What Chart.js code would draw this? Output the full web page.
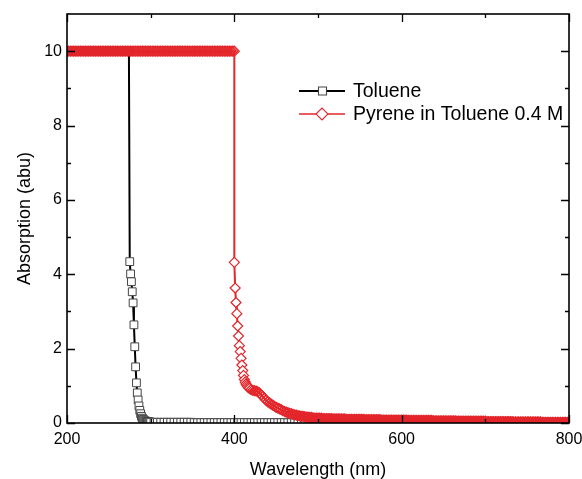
<!DOCTYPE html>
<html>
<head>
<meta charset="utf-8">
<script src="https://cdn.jsdelivr.net/npm/chart.js@4.4.1/dist/chart.umd.min.js"></script>
<style>
html,body{margin:0;padding:0;background:#fff;}
#wrap{width:582px;height:479px;position:relative;}
</style>
</head>
<body>
<div id="wrap"><canvas id="c"></canvas></div>
<script>
// ---------- tick labels ----------
const xTicks = [200, 400, 600, 800];
const xMinorTicks = [300, 500, 700];
const yTicks = [0, 2, 4, 6, 8, 10];
const yMinorTicks = [1, 3, 5, 7, 9];

// ---------- series names ----------
const seriesNames = ['Toluene', 'Pyrene in Toluene 0.4 M'];

// ---------- Toluene ----------
const tolPlateauNm = [200,202,204,206,208,210,212,214,216,218,220,222,224,226,228,230,232,234,236,238,240,242,244,246,248,250,252,254,256,258,260,262,264,266,268,270,272,274];
const tolPlateauAbs = [10,10,10,10,10,10,10,10,10,10,10,10,10,10,10,10,10,10,10,10,10,10,10,10,10,10,10,10,10,10,10,10,10,10,10,10,10,10];
const tolEdgeNm = [275,276,277,278,279,280,281,282,283,284,285,286,287,288,289,290,291,292,293,294,295,296,297,298,299,300];
const tolEdgeAbs = [4.34,4.01,3.80,3.53,3.23,2.64,2.05,1.51,1.08,0.81,0.62,0.46,0.34,0.25,0.18,0.13,0.10,0.08,0.06,0.05,0.04,0.04,0.03,0.03,0.03,0.02];
const tolTailNm = [304,308,312,316,320,324,328,332,336,340,344,348,
352,356,360,364,368,372,376,380,384,388,392,396,400,404,408,412,416,420,424,428,432,436,440,444,448,452,456,460,464,468,472,476,480,484,488,492,496,500,504,508,512,516,520,524,528,532,536,540,544,548,552,556,560,564,568,572,576,580,584,588,592,596,600,604,608,612,616,620,624,628,632,636,640,644,648,652,656,660,664,668,672,676,680,684,688,692,696,700,704,708,712,716,720,724,728,732,736,740,744,748,752,756,760,764,768,772,776,780,784,788,792,796,800];
const tolTailAbs = [0.02,0.02,0.02,0.02,0.02,0.02,0.02,0.02,0.02,0.02,0.02,0.02,
0.01,0.01,0.01,0.01,0.01,0.01,0.01,0.01,0.01,0.01,
0.01,0.01,0.01,0.01,0.01,0.01,0.01,0.01,0.01,0.01,
0.01,0.01,0.01,0.01,0.01,0.01,0.01,0.01,0.01,0.01,
0.01,0.01,0.01,0.01,0.01,0.01,0.01,0.01,0.01,0.01,
0.01,0.01,0.01,0.01,0.01,0.01,0.01,0.01,0.01,0.01,
0.01,0.01,0.01,0.01,0.01,0.01,0.01,0.01,0.01,0.01,
0.01,0.01,0.01,0.01,0.01,0.01,0.01,0.01,0.01,0.01,
0.01,0.01,0.01,0.01,0.01,0.01,0.01,0.01,0.01,0.01,
0.01,0.01,0.01,0.01,0.01,0.01,0.01,0.01,0.01,0.01,
0.01,0.01,0.01,0.01,0.01,0.01,0.01,0.01,0.01,0.01,
0.01,0.01,0.01,0.01,0.01,0.01,0.01,0.01,0.01,0.01,
0.01,0.01,0.01];

// ---------- Pyrene in Toluene ----------
const pyrPlateauNm = [200,202,204,206,208,210,212,214,216,218,220,222,224,226,228,230,232,234,236,238,240,242,244,246,248,250,252,254,256,258,260,262,264,266,268,270,272,274,276,278,280,282,284,286,288,290,292,294,296,298,300,302,304,306,308,310,312,314,316,318,320,322,324,326,328,330,332,334,336,338,340,342,344,346,348,350,352,354,356,358,360,362,364,366,368,370,372,374,376,378,380,382,384,386,388,390,392,394,396,398,400];
const pyrPlateauAbs = [10,10,10,10,10,10,10,10,10,10,
10,10,10,10,10,10,10,10,10,10,
10,10,10,10,10,10,10,10,10,10,
10,10,10,10,10,10,10,10,10,10,
10,10,10,10,10,10,10,10,10,10,
10,10,10,10,10,10,10,10,10,10,
10,10,10,10,10,10,10,10,10,10,
10,10,10,10,10,10,10,10,10,10,
10,10,10,10,10,10,10,10,10,10,
10,10,10,10,10,10,10,10,10,10,
10];
const pyrEdgeNm = [400,401,402,403,404,405,406,407,408,409,410,411,412,413,414,415,416,417,418];
const pyrEdgeAbs = [4.32,3.63,3.24,2.94,2.61,2.34,2.08,1.92,1.74,1.56,1.41,1.28,1.17,1.10,1.05,1.01,0.98,0.95,0.93];
const pyrTailNm = [420,422,424,426,428,430,432,434,436,438,440,442,444,446,448,450,452,454,456,458,460,462,464,466,468,470,472,474,476,478,480,482,484,486,488,490,492,494,496,498,
500,502,504,506,508,510,512,514,516,518,520,522,524,526,528,530,532,534,536,538,540,542,544,546,548,550,552,554,556,558,560,562,564,566,568,570,572,574,576,578,580,582,584,586,588,590,592,594,596,598,
600,602,604,606,608,610,612,614,616,618,620,622,624,626,628,630,632,634,636,638,640,642,644,646,648,650,652,654,656,658,660,662,664,666,668,670,672,674,676,678,680,682,684,686,688,690,692,694,696,698,
700,702,704,706,708,710,712,714,716,718,720,722,724,726,728,730,732,734,736,738,740,742,744,746,748,750,752,754,756,758,760,762,764,766,768,770,772,774,776,778,780,782,784,786,788,790,792,794,796,798,800];
const pyrTailAbs = [0.90,0.88,0.87,0.86,0.84,0.81,0.76,0.71,0.66,0.61,
0.57,0.54,0.51,0.48,0.45,0.42,0.40,0.38,0.36,0.33,
0.31,0.29,0.28,0.26,0.25,0.23,0.22,0.21,0.20,0.19,
0.18,0.18,0.17,0.16,0.16,0.15,0.15,0.14,0.13,0.13,
0.13,0.13,0.13,0.12,0.12,0.12,0.12,0.12,0.12,0.11,
0.11,0.11,0.11,0.11,0.11,0.11,0.11,0.10,0.10,0.10,
0.10,0.10,0.10,0.10,0.10,0.10,0.10,0.10,0.09,0.09,
0.09,0.09,0.09,0.09,0.09,0.09,0.09,0.09,0.08,0.08,
0.08,0.08,0.08,0.08,0.08,0.08,0.08,0.08,0.08,0.08,
0.08,0.08,0.08,0.08,0.07,0.07,0.07,0.07,0.07,0.07,
0.07,0.07,0.07,0.07,0.07,0.07,0.07,0.07,0.07,0.06,
0.06,0.06,0.06,0.06,0.06,0.06,0.06,0.06,0.06,0.06,
0.06,0.06,0.06,0.05,0.05,0.05,0.05,0.05,0.05,0.05,
0.05,0.05,0.05,0.05,0.05,0.05,0.05,0.05,0.05,0.05,
0.05,0.04,0.04,0.04,0.04,0.04,0.04,0.04,0.04,0.04,
0.04,0.04,0.04,0.04,0.04,0.04,0.04,0.03,0.03,0.03,
0.03,0.03,0.03,0.03,0.03,0.03,0.03,0.03,0.03,0.03,
0.03,0.03,0.03,0.03,0.02,0.02,0.02,0.02,0.02,0.02,
0.02,0.02,0.02,0.02,0.02,0.02,0.02,0.02,0.02,0.02,
0.01];

// ---------- build points ----------
function toPoints(xs, ys){ return xs.map((x, i) => ({x: x, y: ys[i]})); }
const tolPoints = toPoints([...tolPlateauNm, ...tolEdgeNm, ...tolTailNm], [...tolPlateauAbs, ...tolEdgeAbs, ...tolTailAbs]);
const pyrPoints = toPoints([...pyrPlateauNm, ...pyrEdgeNm, ...pyrTailNm], [...pyrPlateauAbs, ...pyrEdgeAbs, ...pyrTailAbs]);

const FONT = 'Arial, "Liberation Sans", sans-serif';
const BLACK = '#000000';
const RED = '#e3262b';
const CLEAR = 'rgba(255,255,255,0)';
Chart.defaults.font.family = FONT;
Chart.defaults.color = '#000';

// marker fill: hollow for separated markers, see-through where markers pile up
function pyrFill(c){
  if (!c.parsed) return '#fff';
  const v = c.parsed.y;
  if (v >= 10) return CLEAR;
  if (v < 0.2) return RED;
  if (v < 0.95) return CLEAR;
  return '#ffffff';
}
function tolFill(c){
  if (!c.parsed) return '#fff';
  return c.parsed.y >= 10 ? CLEAR : '#ffffff';
}

const decor = {
  id: 'decor',
  afterDatasetsDraw(chart){
    const {ctx, chartArea: a, scales: {x, y}} = chart;
    ctx.save();
    ctx.strokeStyle = '#000';
    ctx.lineWidth = 1.3;
    ctx.beginPath();
    const tx = (vals, len) => vals.forEach(v => {
      const px = Math.round(x.getPixelForValue(v)) + 0.5;
      ctx.moveTo(px, a.bottom); ctx.lineTo(px, a.bottom - len);
      ctx.moveTo(px, a.top); ctx.lineTo(px, a.top + len);
    });
    const ty = (vals, len) => vals.forEach(v => {
      const py = Math.round(y.getPixelForValue(v)) + 0.5;
      ctx.moveTo(a.left, py); ctx.lineTo(a.left + len, py);
      ctx.moveTo(a.right, py); ctx.lineTo(a.right - len, py);
    });
    tx(xTicks, 8); tx(xMinorTicks, 4);
    ty(yTicks, 8); ty(yMinorTicks, 4);
    ctx.stroke();
    ctx.lineWidth = 1.6;
    ctx.strokeRect(a.left, a.top, a.right - a.left, a.bottom - a.top);
    ctx.restore();
  },
  afterDraw(chart){
    const ctx = chart.ctx;
    ctx.save();
    const rows = [
      {y: 91, color: BLACK, lw: 2.2, style: 'rect'},
      {y: 114, color: RED, lw: 1.4, style: 'diamond'}
    ];
    rows.forEach((r, i) => {
      ctx.strokeStyle = r.color;
      ctx.lineWidth = r.lw;
      ctx.beginPath(); ctx.moveTo(299, r.y); ctx.lineTo(345, r.y); ctx.stroke();
      ctx.fillStyle = '#fff';
      ctx.lineWidth = 1.1;
      ctx.beginPath();
      if (r.style === 'rect') {
        ctx.strokeStyle = '#444';
        ctx.rect(318.5, r.y - 4, 8, 8);
      } else {
        ctx.moveTo(322 - 6, r.y); ctx.lineTo(322, r.y - 6); ctx.lineTo(322 + 6, r.y); ctx.lineTo(322, r.y + 6); ctx.closePath();
      }
      ctx.fill(); ctx.stroke();
      ctx.fillStyle = '#000';
      ctx.font = '19.5px ' + FONT;
      ctx.textBaseline = 'middle';
      ctx.textAlign = 'left';
      ctx.fillText(chart.data.datasets[i].label, 353, r.y + 1);
    });
    ctx.restore();
  }
};

new Chart(document.getElementById('c'), {
  type: 'line',
  data: {
    datasets: [
      {
        label: seriesNames[0],
        data: tolPoints,
        borderColor: BLACK,
        borderWidth: 2,
        pointStyle: 'rect',
        pointRadius: 5.5,
        pointBorderWidth: 1,
        pointBorderColor: '#444',
        pointBackgroundColor: tolFill,
        tension: 0,
        order: 1
      },
      {
        label: seriesNames[1],
        data: pyrPoints,
        borderColor: RED,
        borderWidth: 2,
        pointStyle: 'rectRot',
        pointRadius: 5,
        pointBorderWidth: 1.2,
        pointBorderColor: RED,
        pointBackgroundColor: pyrFill,
        tension: 0,
        order: 0
      }
    ]
  },
  options: {
    responsive: true,
    maintainAspectRatio: false,
    animation: false,
    events: [],
    layout: {padding: {top: 14, right: 13, left: 0, bottom: 0}},
    plugins: {legend: {display: false}, tooltip: {enabled: false}},
    scales: {
      x: {
        type: 'linear',
        min: 200, max: 800,
        afterBuildTicks: s => { s.ticks = xTicks.map(v => ({value: v})); },
        afterFit: s => { s.height = 56; s.paddingLeft = 0; s.paddingRight = 0; },
        grid: {display: false, drawTicks: false},
        border: {display: false},
        ticks: {font: {size: 16}, color: '#000', padding: 7, maxRotation: 0, autoSkip: false},
        title: {display: true, text: 'Wavelength (nm)', font: {size: 18, lineHeight: 1}, padding: 0, color: '#000'}
      },
      y: {
        type: 'linear',
        min: 0, max: 11,
        afterBuildTicks: s => { s.ticks = yTicks.map(v => ({value: v})); },
        afterFit: s => { s.width = 67; s.paddingTop = 0; s.paddingBottom = 0; },
        grid: {display: false, drawTicks: false},
        border: {display: false},
        ticks: {font: {size: 16}, color: '#000', padding: 5, autoSkip: false},
        title: {display: true, text: 'Absorption (abu)', font: {size: 18, lineHeight: 1}, padding: {top: 16, bottom: 0}, color: '#000'}
      }
    }
  },
  plugins: [decor]
});
</script>
</body>
</html>
